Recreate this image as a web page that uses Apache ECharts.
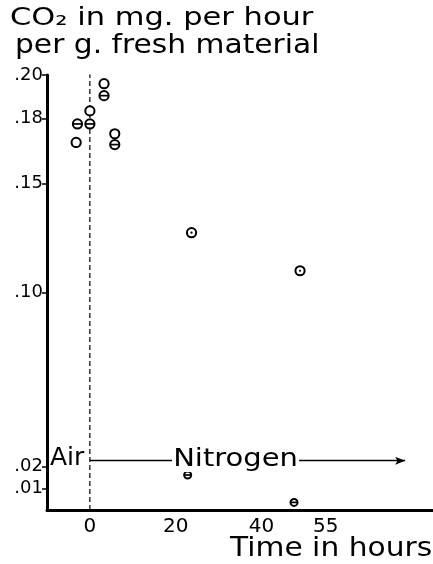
<!DOCTYPE html>
<html>
<head>
<meta charset="utf-8">
<script src="https://cdn.jsdelivr.net/npm/echarts@6/dist/echarts.min.js"></script>
<style>
  html, body { margin: 0; padding: 0; background: #fff; }
  #co2-chart { width: 433px; height: 564px; }
</style>
</head>
<body>
<div id="co2-chart"></div>
<script>
// hours from start of nitrogen, CO2 mg per hour per g fresh material
const openX = [-3.2, 0, 3.3, 5.8];
const openY = [0.169, 0.1835, 0.196, 0.173];
const barX = [-2.9, 0, 3.3, 5.8, 22.8, 47.6];
const barY = [0.1775, 0.1775, 0.1905, 0.168, 0.0161, 0.0035];
const dotX = [23.7, 49.0];
const dotY = [0.1275, 0.110];

// air / nitrogen switch at 0 h, and the nitrogen arrow
const switchLine = [[0, 0], [0, 0.201]];
const arrowFrom = [0, 0.0227];
const arrowTo = [73.5, 0.0227];

const yTicks = [0.01, 0.02, 0.10, 0.15, 0.18, 0.20];
const xTicks = [0, 20, 40, 55];

const FONT = "DejaVu Sans";

// kind: 0 open circle, 1 circle with bar, 2 circle with dot
let points = [];
openX.forEach((x, i) => points.push([x, openY[i], 0]));
barX.forEach((x, i) => points.push([x, barY[i], 1]));
dotX.forEach((x, i) => points.push([x, dotY[i], 2]));

function renderPoint(params, api) {
  const p = api.coord([api.value(0), api.value(1)]);
  const kind = api.value(2);
  const r = api.value(1) < 0.05 ? 3.5 : 4.6;
  const children = [{
    type: "circle",
    shape: { cx: p[0], cy: p[1], r: r },
    style: { fill: "#fff", stroke: "#000", lineWidth: 2 }
  }];
  if (kind === 1) {
    children.push({
      type: "line",
      shape: { x1: p[0] - r, y1: p[1], x2: p[0] + r, y2: p[1] },
      style: { stroke: "#000", lineWidth: 1.7 }
    });
  }
  if (kind === 2) {
    children.push({
      type: "circle",
      shape: { cx: p[0], cy: p[1], r: 1.1 },
      style: { fill: "#000" }
    });
  }
  return { type: "group", children: children };
}

function text(str, x, y, size, sx, extra) {
  return {
    type: "text",
    x: x,
    y: y,
    scaleX: sx,
    z: 10,
    style: Object.assign({ text: str, font: size + "px " + FONT, fill: "#000" }, extra || {})
  };
}

const options = {
  animation: false,
  backgroundColor: "#fff",
  grid: { left: 47, right: 0, top: 75, bottom: 54 },
  xAxis: {
    type: "value",
    min: -10,
    max: 80,
    splitLine: { show: false },
    axisLine: { onZero: false, lineStyle: { color: "#000", width: 3 } },
    axisTick: { show: false },
    axisLabel: {
      customValues: xTicks,
      color: "#000",
      fontFamily: FONT,
      fontSize: 20,
      margin: 7
    }
  },
  yAxis: {
    type: "value",
    min: 0,
    max: 0.2,
    splitLine: { show: false },
    axisLine: { onZero: false, lineStyle: { color: "#000", width: 3 } },
    axisTick: {
      customValues: yTicks,
      length: 5,
      lineStyle: { color: "#000", width: 1.5 }
    },
    axisLabel: {
      customValues: yTicks,
      color: "#000",
      fontFamily: FONT,
      fontSize: 18,
      margin: 4,
      formatter: v => "." + String(Math.round(v * 100)).padStart(2, "0")
    }
  },
  series: [
    {
      type: "line",
      data: switchLine,
      symbol: "none",
      silent: true,
      lineStyle: { color: "#000", width: 1.2, type: [5, 3] },
      z: 2
    },
    {
      type: "custom",
      renderItem: renderPoint,
      data: points,
      z: 5
    },
    {
      type: "line",
      data: [],
      markLine: {
        silent: true,
        symbol: ["none", "arrow"],
        symbolSize: [6, 10],
        label: { show: false },
        lineStyle: { color: "#000", width: 1.3, type: "solid" },
        data: [[{ coord: arrowFrom }, { coord: arrowTo }]]
      }
    }
  ],
  graphic: [
    text("CO\u2082 in mg. per hour", 10, 5.5, 25, 1.22),
    text("per g. fresh material", 15, 32, 27, 1.1),
    text("Air", 50, 446, 25, 1, { backgroundColor: "#fff" }),
    text("Nitrogen", 172, 447, 25, 1.16, { backgroundColor: "#fff", padding: [0, 1] }),
    text("Time in hours", 230, 535.5, 27, 1.1)
  ]
};

const chart = echarts.init(document.getElementById("co2-chart"));
chart.clear();
chart.setOption(options);
</script>
</body>
</html>
